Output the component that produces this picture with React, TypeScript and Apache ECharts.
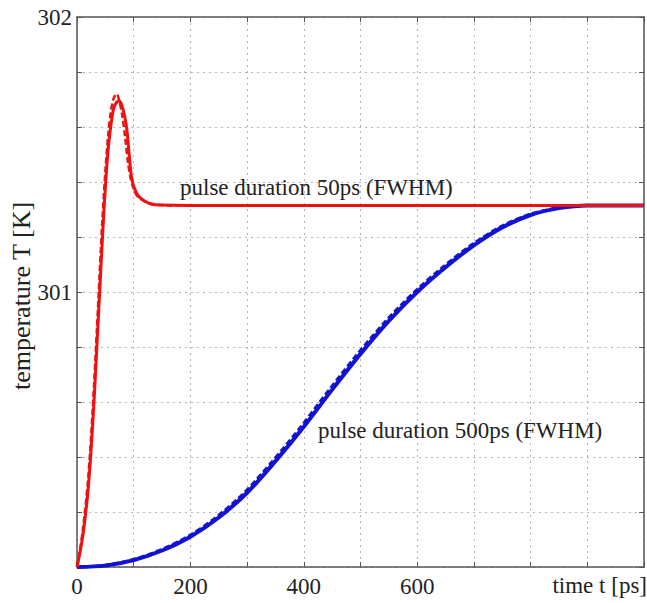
import React, { useEffect, useRef } from "react";
import * as echarts from "echarts";

// ---- data ----
const redSolidT = [0, 5, 10, 15, 20, 25, 30, 35, 40, 45, 50, 55, 60, 65, 70, 74, 78, 84, 88, 92, 96, 100, 105, 110, 120, 130, 150, 200, 300, 400, 500, 600, 700, 800, 900, 1000];
const redSolidV = [300, 300.05, 300.11, 300.19, 300.29, 300.43, 300.6, 300.8, 301.0, 301.2, 301.38, 301.52, 301.61, 301.67, 301.69, 301.695, 301.685, 301.64, 301.59, 301.5, 301.42, 301.385, 301.36, 301.345, 301.33, 301.32, 301.316, 301.315, 301.315, 301.315, 301.315, 301.315, 301.315, 301.315, 301.315, 301.315];

const redDashT = [0, 5, 10, 15, 20, 25, 30, 35, 40, 45, 50, 55, 60, 64, 67, 70, 74, 80, 85, 90, 95, 100, 106, 115, 125, 140, 160, 200];
const redDashV = [300, 300.06, 300.13, 300.22, 300.33, 300.48, 300.66, 300.86, 301.07, 301.27, 301.44, 301.57, 301.66, 301.7, 301.715, 301.72, 301.7, 301.64, 301.56, 301.47, 301.41, 301.375, 301.35, 301.335, 301.325, 301.318, 301.315, 301.315];

const blueSolidT = [0, 50, 100, 150, 200, 250, 300, 350, 400, 450, 500, 550, 600, 650, 700, 750, 800, 850, 900, 950, 1000];
const blueSolidV = [300, 300.005, 300.025, 300.06, 300.11, 300.18, 300.27, 300.385, 300.51, 300.645, 300.775, 300.895, 301.0, 301.09, 301.17, 301.235, 301.28, 301.305, 301.315, 301.315, 301.315];

const blueDashT = [0, 45, 95, 145, 195, 245, 295, 345, 395, 445, 495, 545, 595, 645, 695, 745, 795, 845, 895];
const blueDashV = [300, 300.005, 300.025, 300.06, 300.11, 300.18, 300.27, 300.385, 300.51, 300.645, 300.775, 300.895, 301.0, 301.09, 301.17, 301.235, 301.28, 301.305, 301.315];

const xTickLabels = [0, 200, 400, 600];
const yTickLabels = [301, 302];

const xTitle = "time t [ps]";
const yTitle = "temperature T [K]";
const label50 = "pulse duration 50ps (FWHM)";
const label500 = "pulse duration 500ps (FWHM)";

const zip = (a: number[], b: number[]) => a.map((v, i) => [v, b[i]]);

const FONT = "'Liberation Serif', 'Times New Roman', serif";
const AXIS_COLOR = "#555";

export default function App() {
  const ref = useRef<HTMLDivElement>(null);

  useEffect(() => {
    if (!ref.current) return;
    const chart = echarts.init(ref.current, undefined, { renderer: "svg" });

    const baseX = {
      type: "value" as const,
      min: 0,
      max: 1000,
      interval: 100,
      axisLine: { show: true, onZero: false, lineStyle: { color: AXIS_COLOR, width: 1.5 } },
      axisTick: { show: true, inside: true, length: 5, lineStyle: { color: AXIS_COLOR, width: 1 } },
    };
    const baseY = {
      type: "value" as const,
      min: 300,
      max: 302,
      interval: 0.2,
      axisLine: { show: true, onZero: false, lineStyle: { color: AXIS_COLOR, width: 1.5 } },
      axisTick: { show: true, inside: true, length: 5, lineStyle: { color: AXIS_COLOR, width: 1 } },
    };
    const gridLine = { show: true, lineStyle: { color: "#b4b4b4", width: 1, type: [2, 4] as any } };

    const line = (t: number[], v: number[], color: string, width: number, dashed: boolean, z: number) => ({
      type: "line",
      data: zip(t, v),
      smooth: 0.3,
      showSymbol: false,
      lineStyle: { color, width, type: dashed ? [6, 3] : "solid" },
      z,
    });

    chart.setOption({
      animation: false,
      backgroundColor: "#ffffff",
      grid: { left: 77, right: 1, top: 17, bottom: 36, containLabel: false },
      xAxis: [
        {
          ...baseX,
          position: "bottom",
          splitLine: gridLine,
          axisLabel: {
            show: true,
            margin: 8,
            color: "#222",
            fontFamily: FONT,
            fontSize: 23,
            formatter: (v: number) => (xTickLabels.includes(Math.round(v)) ? String(Math.round(v)) : ""),
          },
        },
        {
          ...baseX,
          position: "top",
          splitLine: { show: false },
          axisLabel: { show: false },
        },
      ],
      yAxis: [
        {
          ...baseY,
          position: "left",
          splitLine: gridLine,
          axisLabel: {
            show: true,
            margin: 5,
            color: "#222",
            fontFamily: FONT,
            fontSize: 23,
            showMaxLabel: true,
            formatter: (v: number) => {
              const m = yTickLabels.find((t) => Math.abs(t - v) < 1e-6);
              return m !== undefined ? String(m) : "";
            },
          },
        },
        {
          ...baseY,
          position: "right",
          splitLine: { show: false },
          axisLabel: { show: false },
        },
      ],
      series: [
        line(blueSolidT, blueSolidV, "#1212d2", 4, false, 2),
        line(blueDashT, blueDashV, "#1212d2", 3, true, 2),
        line(redSolidT, redSolidV, "#ee1111", 3, false, 3),
        line(redDashT, redDashV, "#ee1111", 2.5, true, 3),
      ],
      graphic: [
        {
          type: "text",
          x: 21,
          y: 296,
          rotation: Math.PI / 2,
          style: { text: yTitle, font: `26px ${FONT}`, fill: "#222", align: "center", verticalAlign: "middle" },
        },
        {
          type: "text",
          x: 647,
          y: 585,
          style: { text: xTitle, font: `23px ${FONT}`, fill: "#222", align: "right", verticalAlign: "middle" },
        },
        {
          type: "text",
          x: 180,
          y: 187,
          z: 10,
          style: { text: label50, font: `23px ${FONT}`, fill: "#222", align: "left", verticalAlign: "middle" },
        },
        {
          type: "text",
          x: 318,
          y: 430,
          z: 10,
          style: { text: label500, font: `23px ${FONT}`, fill: "#222", align: "left", verticalAlign: "middle" },
        },
      ],
    });

    return () => chart.dispose();
  }, []);

  return (
    <div
      ref={ref}
      style={{ position: "absolute", left: 0, top: 0, width: 647, height: 603 }}
    />
  );
}
